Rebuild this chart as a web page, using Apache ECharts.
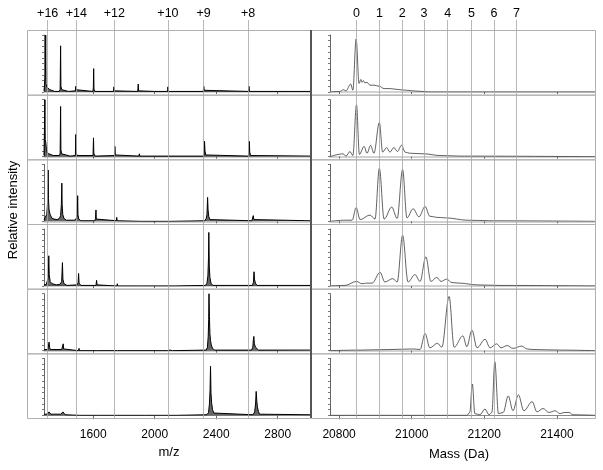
<!DOCTYPE html>
<html><head><meta charset="utf-8">
<script src="https://cdn.jsdelivr.net/npm/echarts@6/dist/echarts.min.js"></script>
<style>html,body{margin:0;padding:0;background:#fff}#c{width:603px;height:470px}</style>
</head><body><div id="c"></div>
<script>
// ---- DATA ----
const chargeLabels = ['+16','+14','+12','+10','+9','+8'];
const chargeMz = [1304, 1490, 1738, 2086, 2318, 2608];
const adductLabels = ['0','1','2','3','4','5','6','7'];
const adductMass = [20848, 20911, 20974, 21034, 21099, 21165, 21227, 21289];
const mzTicks = [1600, 2000, 2400, 2800];
const massTicks = [20800, 21000, 21200, 21400];
const mzTitle = 'm/z';
const massTitle = 'Mass (Da)';
const yTitle = 'Relative intensity';

// m/z spectra (rows top to bottom): [m/z, relative intensity]
const mzRow1 = [[1280,0.02],[1286,0.03],[1289,0.3],[1291,1.0],[1293,0.15],[1297,0.09],[1302,0.06],[1310,0.08],[1318,0.04],[1330,0.03],[1350,0.01],[1380,0.01],[1385,0.05],[1388,0.81],[1390,0.1],[1396,0.04],[1405,0.02],[1440,0.01],[1484,0.02],[1487,0.1],[1489,0.04],[1496,0.01],[1598,0.01],[1601,0.08],[1603,0.41],[1605,0.05],[1612,0.01],[1732,0.01],[1735,0.09],[1737,0.02],[1890,0.01],[1893,0.14],[1895,0.02],[2000,0.01],[2002,0.02],[2004,0.01],[2084,0.01],[2086,0.09],[2089,0.01],[2316,0.01],[2319,0.1],[2322,0.03],[2328,0.01],[2610,0.01],[2613,0.1],[2616,0.01],[3010,0.01]];
const mzRow2 = [[1280,0.02],[1284,0.05],[1286,1.0],[1288,0.3],[1292,0.24],[1296,0.12],[1302,0.06],[1315,0.03],[1340,0.02],[1380,0.02],[1385,0.06],[1388,0.88],[1390,0.12],[1395,0.05],[1404,0.02],[1450,0.01],[1484,0.02],[1487,0.39],[1489,0.08],[1495,0.02],[1599,0.02],[1602,0.33],[1604,0.06],[1612,0.01],[1738,0.02],[1741,0.18],[1744,0.03],[1750,0.01],[1897,0.01],[1900,0.05],[1903,0.01],[2091,0.01],[2093,0.03],[2096,0.01],[2319,0.01],[2322,0.06],[2324,0.27],[2327,0.1],[2332,0.03],[2340,0.01],[2610,0.01],[2613,0.08],[2615,0.27],[2618,0.08],[2624,0.02],[2632,0.01],[3010,0.01]];
const mzRow3 = [[1280,0.03],[1290,0.05],[1298,0.12],[1304,0.35],[1307,0.9],[1309,0.4],[1313,0.2],[1320,0.12],[1330,0.06],[1345,0.04],[1365,0.03],[1380,0.05],[1388,0.1],[1393,0.3],[1396,0.67],[1398,0.3],[1402,0.12],[1410,0.05],[1425,0.02],[1480,0.02],[1492,0.06],[1496,0.15],[1499,0.45],[1501,0.12],[1506,0.04],[1520,0.01],[1610,0.01],[1615,0.05],[1618,0.2],[1620,0.04],[1628,0.01],[1750,0.01],[1753,0.07],[1756,0.01],[1912,0.0],[1915,0.02],[1918,0.0],[2107,0.0],[2110,0.02],[2113,0.0],[2325,0.01],[2335,0.05],[2340,0.12],[2344,0.42],[2347,0.2],[2352,0.08],[2360,0.03],[2372,0.01],[2632,0.01],[2638,0.04],[2641,0.1],[2645,0.03],[2655,0.01],[3010,0.01]];
const mzRow4 = [[1280,0.02],[1295,0.03],[1303,0.06],[1308,0.15],[1311,0.53],[1314,0.2],[1320,0.08],[1332,0.04],[1360,0.02],[1385,0.03],[1395,0.08],[1400,0.41],[1403,0.12],[1410,0.04],[1430,0.01],[1495,0.02],[1502,0.06],[1505,0.22],[1508,0.05],[1520,0.01],[1618,0.01],[1622,0.1],[1625,0.02],[1754,0.0],[1757,0.04],[1760,0.0],[1925,0.0],[1928,0.01],[1931,0.0],[2125,0.0],[2128,0.01],[2131,0.0],[2330,0.01],[2340,0.05],[2346,0.18],[2350,0.5],[2352,0.94],[2355,0.35],[2359,0.15],[2366,0.05],[2378,0.01],[2635,0.01],[2642,0.06],[2646,0.25],[2649,0.12],[2655,0.05],[2665,0.01],[3010,0.01]];
const mzRow5 = [[1280,0.02],[1305,0.02],[1310,0.05],[1313,0.15],[1316,0.06],[1322,0.02],[1395,0.02],[1402,0.05],[1405,0.12],[1408,0.03],[1415,0.01],[1505,0.0],[1508,0.04],[1511,0.0],[1628,0.0],[1631,0.02],[1634,0.0],[1758,0.0],[1761,0.02],[1764,0.0],[2085,0.0],[2100,0.01],[2115,0.0],[2335,0.01],[2343,0.06],[2348,0.25],[2351,0.55],[2353,1.0],[2356,0.6],[2359,0.3],[2363,0.18],[2368,0.1],[2376,0.04],[2390,0.01],[2630,0.01],[2638,0.06],[2642,0.2],[2645,0.25],[2648,0.12],[2652,0.15],[2656,0.06],[2662,0.03],[2675,0.01],[3010,0.01]];
const mzRow6 = [[1280,0.02],[1300,0.02],[1306,0.05],[1312,0.06],[1318,0.04],[1325,0.02],[1390,0.02],[1397,0.05],[1403,0.06],[1410,0.04],[1418,0.01],[1510,0.0],[1514,0.03],[1518,0.0],[1628,0.0],[1631,0.03],[1634,0.0],[1760,0.0],[1764,0.02],[1768,0.0],[1934,0.0],[1937,0.02],[1940,0.0],[2125,0.0],[2130,0.03],[2136,0.03],[2140,0.0],[2340,0.01],[2350,0.05],[2356,0.2],[2360,0.45],[2363,0.86],[2366,0.4],[2370,0.22],[2376,0.1],[2385,0.04],[2398,0.01],[2640,0.01],[2650,0.06],[2656,0.2],[2660,0.42],[2664,0.25],[2668,0.15],[2674,0.07],[2682,0.02],[2695,0.01],[3010,0.01]];

// deconvoluted mass spectra (rows top to bottom): [mass Da, relative intensity]
const massRow1 = [[20775,0],[20802,0.01],[20812,0.04],[20819,0.02],[20832,0.14],[20838,0.03],[20847,0.93],[20855,0.15],[20860,0.22],[20863,0.17],[20867,0.2],[20871,0.16],[20877,0.17],[20885,0.12],[20896,0.12],[20911,0.1],[20924,0.06],[20940,0.06],[20968,0.04],[21004,0.02],[21050,0],[21505,0]];
const massRow2 = [[20775,0],[20811,0.05],[20819,0.01],[20830,0.09],[20838,0.02],[20848,0.91],[20856,0.04],[20869,0.18],[20877,0.06],[20887,0.2],[20896,0.06],[20911,0.6],[20920,0.08],[20931,0.16],[20940,0.08],[20951,0.16],[20961,0.09],[20972,0.2],[20982,0.08],[20995,0.06],[21034,0.05],[21078,0.02],[21133,0.01],[21505,0]];
const massRow3 = [[20775,0],[20816,0.02],[20836,0.02],[20847,0.24],[20858,0.03],[20885,0.11],[20899,0.04],[20911,0.93],[20924,0.04],[20945,0.25],[20960,0.05],[20975,0.91],[20987,0.06],[21004,0.22],[21020,0.08],[21037,0.26],[21050,0.09],[21069,0.07],[21096,0.06],[21152,0.02],[21216,0.01],[21505,0]];
const massRow4 = [[20775,0],[20816,0.01],[20848,0.08],[20863,0.04],[20876,0.05],[20891,0.05],[20913,0.24],[20926,0.07],[20948,0.13],[20960,0.07],[20975,0.89],[20990,0.07],[21009,0.2],[21023,0.08],[21039,0.51],[21053,0.08],[21069,0.15],[21081,0.08],[21096,0.12],[21111,0.06],[21133,0.05],[21179,0.02],[21243,0.01],[21505,0]];
const massRow5 = [[20775,0],[20858,0.01],[20940,0.02],[21004,0.03],[21023,0.02],[21037,0.3],[21050,0.05],[21071,0.13],[21083,0.06],[21103,0.95],[21117,0.06],[21141,0.26],[21152,0.07],[21166,0.36],[21180,0.05],[21202,0.2],[21216,0.05],[21234,0.12],[21246,0.05],[21263,0.09],[21279,0.04],[21303,0.08],[21318,0.03],[21334,0.02],[21408,0.01],[21505,0]];
const massRow6 = [[20775,0],[21152,0],[21160,0.05],[21167,0.55],[21174,0.03],[21188,0.01],[21202,0.11],[21213,0.01],[21221,0.05],[21229,0.94],[21239,0.03],[21252,0.05],[21266,0.34],[21279,0.08],[21294,0.36],[21309,0.08],[21332,0.24],[21345,0.06],[21362,0.12],[21378,0.05],[21395,0.08],[21409,0.03],[21420,0.05],[21434,0.05],[21444,0.01],[21505,0]];

const mzRows = [mzRow1, mzRow2, mzRow3, mzRow4, mzRow5, mzRow6];
const massRows = [massRow1, massRow2, massRow3, massRow4, massRow5, massRow6];

// ---- LAYOUT ----
const FONT = 'Liberation Sans, Arial, Helvetica, sans-serif';
const MZ_MIN = 1280, MZ_MAX = 3010;
const MS_MIN = 20775, MS_MAX = 21505;
const TOP = 30, BOT = 418, NR = 6;
const PH = (BOT - TOP) / NR;
const L = {frameX: 27, plotX: 44, right: 310};
const R = {frameX: 311, plotX: 330, right: 595};

const grid = [], xAxis = [], yAxis = [], series = [], graphic = [];
for (let k = 0; k < NR; k++) {
  const T = TOP + k * PH;
  const last = k === NR - 1;
  [[L, MZ_MIN, MZ_MAX, mzTicks, mzRows[k], '#000', 1, 0],
   [R, MS_MIN, MS_MAX, massTicks, massRows[k], '#3a3a3a', 0.8, 0.35]].forEach(([C, mn, mx, ticks, data, col, lw, sm]) => {
    const gi = grid.length;
    grid.push({left: C.plotX, width: C.right - C.plotX, top: T + 5, height: 57});
    xAxis.push({
      type: 'value', gridIndex: gi, min: mn, max: mx, offset: last ? 4.5 : 1.5,
      axisLine: {show: true, lineStyle: {color: last ? '#888' : '#c4c4c4', width: last ? 1 : 1.5}},
      axisTick: {show: true, length: last ? 4 : 2, customValues: ticks, lineStyle: {color: '#666'}},
      axisLabel: {show: last, customValues: ticks, fontSize: 12, color: '#000', fontFamily: FONT, margin: 9,
        formatter: v => String(v)},
      splitLine: {show: false}
    });
    yAxis.push({
      type: 'value', gridIndex: gi, min: 0, max: 1, interval: 0.1,
      axisLine: {show: true, lineStyle: {color: '#666', width: 1}},
      axisTick: {show: true, length: 2, lineStyle: {color: '#777'}},
      axisLabel: {show: false}, splitLine: {show: false}
    });
    series.push({
      type: 'line', xAxisIndex: gi, yAxisIndex: gi, data: data, showSymbol: false, symbol: 'none',
      silent: true, animation: false, smooth: sm, smoothMonotone: 'x',
      lineStyle: {color: col, width: lw},
      areaStyle: C === L ? {color: '#000', opacity: 0.6} : undefined
    });
  });
  graphic.push({type: 'rect', z: 1, shape: {x: L.frameX + 0.5, y: T + 0.5, width: L.right - L.frameX, height: PH},
    style: {fill: 'none', stroke: '#b0b0b0', lineWidth: 1}});
  graphic.push({type: 'rect', z: 1, shape: {x: R.frameX + 0.5, y: T + 0.5, width: R.right - R.frameX, height: PH},
    style: {fill: 'none', stroke: '#b0b0b0', lineWidth: 1}});
}
graphic.push({type: 'line', z: 2, shape: {x1: R.frameX, y1: TOP, x2: R.frameX, y2: BOT},
  style: {stroke: '#555', lineWidth: 2}});
graphic.push({type: 'text', z: 3, x: 169, y: 452, style: {text: mzTitle, font: '13px ' + FONT, fill: '#000', textAlign: 'center', textVerticalAlign: 'middle'}});
graphic.push({type: 'text', z: 3, x: 459, y: 454, style: {text: massTitle, font: '13px ' + FONT, fill: '#000', textAlign: 'center', textVerticalAlign: 'middle'}});
graphic.push({type: 'text', z: 3, x: 13, y: 210, rotation: Math.PI / 2, style: {text: yTitle, font: '13px ' + FONT, fill: '#000', textAlign: 'center', textVerticalAlign: 'middle'}});

// overlay grids for reference lines
[[L, MZ_MIN, MZ_MAX, chargeMz, chargeLabels], [R, MS_MIN, MS_MAX, adductMass, adductLabels]].forEach(([C, mn, mx, vals, labs]) => {
  const gi = grid.length;
  grid.push({left: C.plotX, width: C.right - C.plotX, top: 20, height: BOT - 20});
  xAxis.push({type: 'value', gridIndex: gi, min: mn, max: mx, show: false});
  yAxis.push({type: 'value', gridIndex: gi, min: 0, max: 1, show: false});
  series.push({
    type: 'line', xAxisIndex: gi, yAxisIndex: gi, data: [[mn, 0]], symbol: 'none', silent: true, animation: false,
    lineStyle: {opacity: 0}, z: 5,
    markLine: {
      silent: true, symbol: ['none', 'none'], animation: false,
      lineStyle: {color: '#a6a6a6', width: 0.8, type: 'solid'},
      label: {show: true, position: 'end', formatter: '{b}', fontSize: 12.5, color: '#000', fontFamily: FONT, distance: 0},
      emphasis: {disabled: true},
      data: vals.map((v, i) => ({xAxis: v, name: labs[i]}))
    }
  });
});

const chart = echarts.init(document.getElementById('c'), null, {renderer: 'canvas'});
chart.setOption({
  animation: false, backgroundColor: '#fff',
  textStyle: {fontFamily: FONT},
  grid, xAxis, yAxis, series, graphic
});
</script></body></html>
